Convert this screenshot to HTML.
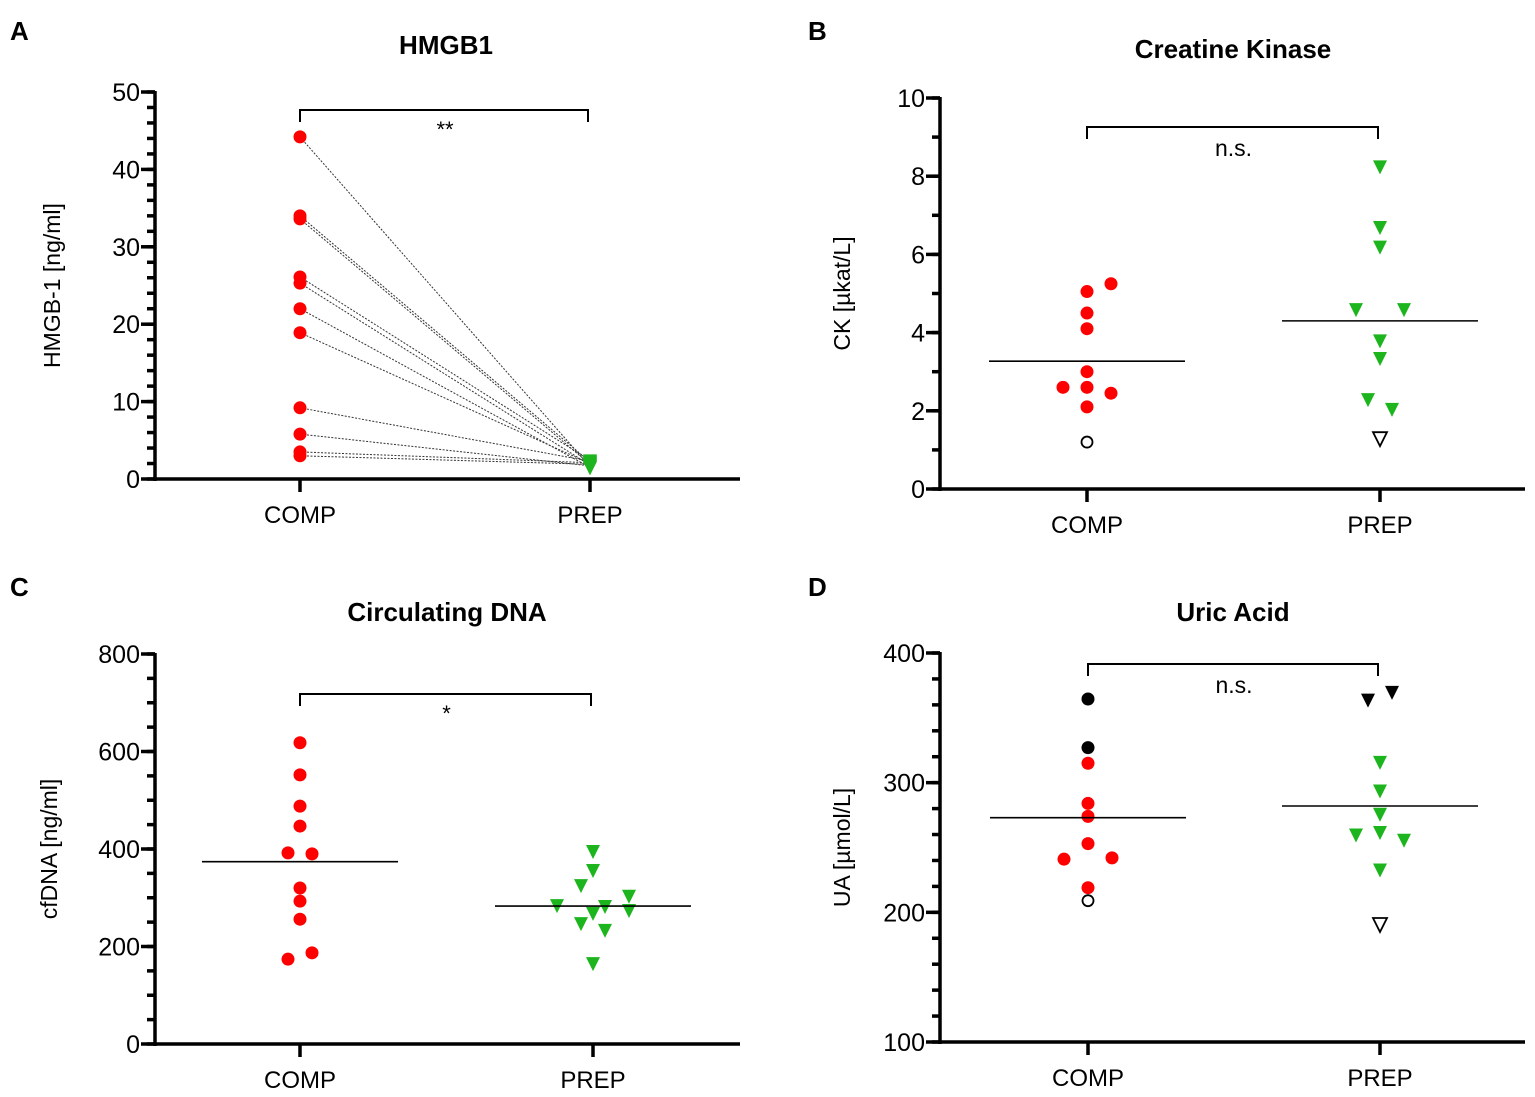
<!DOCTYPE html>
<html><head><meta charset="utf-8"><style>
body{margin:0;background:#fff;width:1535px;height:1092px;overflow:hidden}
svg{font-family:"Liberation Sans",sans-serif}
</style></head><body>
<svg id="fig" width="1535" height="1092"></svg>
<script>
// Panel A (paired HMGB1)
const aCats=["COMP","PREP"];
const aComp=[44.2,34.0,33.6,26.1,25.3,22.0,18.9,9.2,5.8,3.5,3.0];
const aPrep=[1.6,2.2,1.9,2.4,1.8,1.5,2.0,2.3,1.7,2.1,1.9];
const aTicks=[0,10,20,30,40,50];
// Panel B (CK)
const bTicks=[0,2,4,6,8,10];
const bCompY=[5.25,5.05,4.5,4.1,3.0,2.6,2.6,2.45,2.1];
const bCompDx=[1,0,0,0,0,-1,0,1,0];
const bCompOpen=[1.2];
const bPrepY=[8.25,6.7,6.2,4.6,4.6,3.8,3.35,2.3,2.05];
const bPrepDx=[0,0,0,-1,1,0,0,-0.5,0.5];
const bPrepOpen=[1.3];
const bMeans=[3.27,4.3];
// Panel C (cfDNA)
const cTicks=[0,200,400,600,800];
const cCompY=[618,552,488,447,392,390,320,293,256,174,187];
const cCompDx=[0,0,0,0,-0.5,0.5,0,0,0,-0.5,0.5];
const cPrepY=[396,357,326,304,285,283,275,269,248,234,166];
const cPrepDx=[0,0,-0.5,1.5,-1.5,0.5,1.5,0,-0.5,0.5,0];
const cMeans=[374,283];
// Panel D (Uric acid)
const dTicks=[100,200,300,400];
const dCompY=[315,284,274,253,241,242,219];
const dCompDx=[0,0,0,0,-1,1,0];
const dCompBlack=[364.5,327];
const dCompOpen=[209];
const dPrepY=[316,294,276,262,260,256,233];
const dPrepDx=[0,0,0,0,-1,1,0];
const dPrepBlack=[364,370];
const dPrepBlackDx=[-0.5,0.5];
const dPrepOpen=[191];
const dMeans=[273,282];

const NS="http://www.w3.org/2000/svg";
const svg=document.getElementById('fig');
function mk(tag,attrs,parent){const e=document.createElementNS(NS,tag);for(const k in attrs)e.setAttribute(k,attrs[k]);(parent||svg).appendChild(e);return e;}
function txt(s,attrs,parent){const e=mk('text',attrs,parent);e.textContent=s;return e;}

function panel(cfg){
  const g=mk('g',{});
  
  
  const y=v=>cfg.yBot-(v-cfg.min)/(cfg.max-cfg.min)*(cfg.yBot-cfg.yTop);
  const x=i=>cfg.cx[i];
  const yl=mk('line',{x1:cfg.ax,y1:cfg.yTop-1,x2:cfg.ax,y2:cfg.yBot+2,stroke:'#000','stroke-width':3.5},g);
  
  const xl=mk('line',{x1:cfg.ax-1.5,y1:cfg.yBot,x2:cfg.xEnd,y2:cfg.yBot,stroke:'#000','stroke-width':3.5},g);
  
  for(let v=cfg.min;v<=cfg.max+1e-9;v+=cfg.minor){
    mk('line',{x1:cfg.ax-8,y1:y(v),x2:cfg.ax,y2:y(v),stroke:'#000','stroke-width':3.5},g);
  }
  cfg.ticks.forEach(v=>{
    mk('line',{x1:cfg.ax-14,y1:y(v),x2:cfg.ax,y2:y(v),stroke:'#000','stroke-width':3.5},g);
    const t=txt(String(v),{x:cfg.ax-15,y:y(v)+9,'text-anchor':'end','font-size':25},g);
    
  });
  cfg.cats.forEach((c,i)=>{
    mk('line',{x1:x(i),y1:cfg.yBot,x2:x(i),y2:cfg.yBot+13,stroke:'#000','stroke-width':3.5},g);
    const t=txt(c,{x:x(i),y:cfg.yBot+44,'text-anchor':'middle','font-size':24},g);
    
  });
  const tt=txt(cfg.title,{x:cfg.tx,y:cfg.ty,'text-anchor':'middle','font-size':26,'font-weight':'bold'},g);
  
  const lt=txt(cfg.letter,{x:cfg.lx,y:cfg.ly,'font-size':26,'font-weight':'bold'},g);
  
  const at=txt(cfg.ytitle,{x:0,y:0,'text-anchor':'middle','font-size':23,transform:`translate(${cfg.ytx},${(cfg.yTop+cfg.yBot)/2}) rotate(-90)`},g);
  
  const b=cfg.br;
  const bp=mk('path',{d:`M${x(0)},${b+12} V${b} H${x(1)-2} V${b+12}`,fill:'none',stroke:'#000','stroke-width':2},g);
  
  const st=txt(cfg.sig,{x:(x(0)+x(1))/2,y:b+(cfg.sig.length>2?29:27),'text-anchor':'middle','font-size':cfg.sig.length>2?23:22},g);
  
  return {g,y,x};
}
const SP=24;
function dot(g,cx,cy,fill,stroke){const c=mk('circle',{cx,cy,r:6.5,fill,stroke:stroke||'none','stroke-width':1.8},g);return c;}
function tri(g,cx,cy,fill,stroke){const p=mk('polygon',{points:`${cx-7},${cy-6} ${cx+7},${cy-6} ${cx},${cy+8}`,fill,stroke:stroke||'none','stroke-width':1.8},g);return p;}
function mean(g,x,v,yf){const l=mk('line',{x1:x-98,x2:x+98,y1:yf(v),y2:yf(v),stroke:'#000','stroke-width':1.6},g);}

// A
let P=panel({name:'panel-a-hmgb1',min:0,max:50,minor:2,ticks:aTicks,yTop:92,yBot:479,ax:155,xEnd:740,cx:[300,590],cats:aCats,title:'HMGB1',tx:446,ty:54,letter:'A',lx:10,ly:40,ytitle:'HMGB-1 [ng/ml]',ytx:60,br:110,sig:'**'});
aComp.forEach((v,i)=>{const l=mk('line',{x1:P.x(0),y1:P.y(v),x2:P.x(1),y2:P.y(aPrep[i]),stroke:'#333','stroke-width':1,'stroke-dasharray':'2,1.5'},P.g);});
aPrep.forEach(v=>tri(P.g,P.x(1),P.y(v),'#1db51d'));
aComp.forEach(v=>dot(P.g,P.x(0),P.y(v),'#f00'));
// B
P=panel({name:'panel-b-creatine-kinase',min:0,max:10,minor:1,ticks:bTicks,yTop:98,yBot:489,ax:940,xEnd:1525,cx:[1087,1380],cats:aCats,title:'Creatine Kinase',tx:1233,ty:58,letter:'B',lx:808,ly:40,ytitle:'CK [µkat/L]',ytx:850,br:127,sig:'n.s.'});
bCompY.forEach((v,i)=>dot(P.g,P.x(0)+bCompDx[i]*SP,P.y(v),'#f00'));
bCompOpen.forEach(v=>dot(P.g,P.x(0),P.y(v),'#fff','#000').setAttribute('r',5.5));
bPrepY.forEach((v,i)=>tri(P.g,P.x(1)+bPrepDx[i]*SP,P.y(v),'#1db51d'));
bPrepOpen.forEach(v=>tri(P.g,P.x(1),P.y(v),'#fff','#000'));
mean(P.g,P.x(0),bMeans[0],P.y);mean(P.g,P.x(1),bMeans[1],P.y);
// C
P=panel({name:'panel-c-circulating-dna',min:0,max:800,minor:50,ticks:cTicks,yTop:654,yBot:1044,ax:155,xEnd:740,cx:[300,593],cats:aCats,title:'Circulating DNA',tx:447,ty:621,letter:'C',lx:10,ly:596,ytitle:'cfDNA [ng/ml]',ytx:57,br:694,sig:'*'});
cCompY.forEach((v,i)=>dot(P.g,P.x(0)+cCompDx[i]*SP,P.y(v),'#f00'));
cPrepY.forEach((v,i)=>tri(P.g,P.x(1)+cPrepDx[i]*SP,P.y(v),'#1db51d'));
mean(P.g,P.x(0),cMeans[0],P.y);mean(P.g,P.x(1),cMeans[1],P.y);
// D
P=panel({name:'panel-d-uric-acid',min:100,max:400,minor:20,ticks:dTicks,yTop:653,yBot:1042,ax:940,xEnd:1525,cx:[1088,1380],cats:aCats,title:'Uric Acid',tx:1233,ty:621,letter:'D',lx:808,ly:596,ytitle:'UA [µmol/L]',ytx:850,br:664,sig:'n.s.'});
dCompY.forEach((v,i)=>dot(P.g,P.x(0)+dCompDx[i]*SP,P.y(v),'#f00'));
dCompBlack.forEach(v=>dot(P.g,P.x(0),P.y(v),'#000'));
dCompOpen.forEach(v=>dot(P.g,P.x(0),P.y(v),'#fff','#000').setAttribute('r',5.5));
dPrepY.forEach((v,i)=>tri(P.g,P.x(1)+dPrepDx[i]*SP,P.y(v),'#1db51d'));
dPrepBlack.forEach((v,i)=>tri(P.g,P.x(1)+dPrepBlackDx[i]*SP,P.y(v),'#000'));
dPrepOpen.forEach(v=>tri(P.g,P.x(1),P.y(v),'#fff','#000'));
mean(P.g,P.x(0),dMeans[0],P.y);mean(P.g,P.x(1),dMeans[1],P.y);
</script>
</body></html>
